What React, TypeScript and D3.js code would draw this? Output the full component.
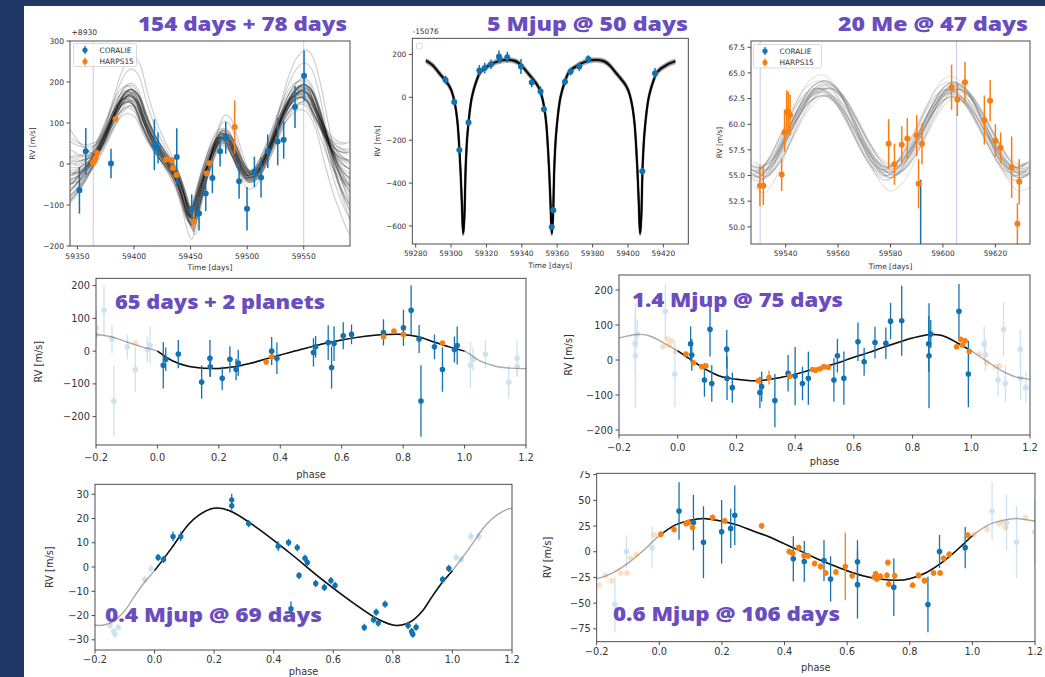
import React from "react";
import * as d3 from "d3";

type P2 = [number, number];
type P3 = [number, number, number];

const BLUE = "#1273b3";
const ORANGE = "#f77f12";
const PURPLE = "#6a4dbf";
const NAVY = "#1f3764";

// ---------------- Panel A: 154 days + 78 days ----------------
const aXTicks = [59350, 59400, 59450, 59500, 59550];
const aYTicks = [-200, -100, 0, 100, 200, 300];
const aCoralie: P3[] = [
  [59351.8, -64, 57], [59357.4, 31, 57], [59379.7, 1, 36], [59418.0, 47, 62], [59421.3, 39, 38],
  [59437.8, 17, 70], [59451.0, -109, 35], [59457.5, -121, 41], [59463.4, -72, 43], [59469.3, -34, 37],
  [59476.1, 31, 37], [59481.1, 64, 39], [59492.9, -42, 43], [59499.9, -109, 53], [59506.4, -19, 37],
  [59512.3, -33, 49], [59518.2, 31, 41], [59527.0, 55, 58], [59532.3, 59, 46], [59542.3, 139, 51],
  [59550.3, 215, 62],
];
const aHarps: P3[] = [
  [59363.6, 3, 8], [59365.0, 8, 8], [59366.2, 15, 8], [59367.4, 27, 8], [59383.6, 110, 6],
  [59428.4, 11, 6], [59433.4, 9, 6], [59434.5, -10, 6], [59437.5, -27, 6], [59452.8, -141, 25],
  [59464.3, -23, 6], [59466.6, 2, 6], [59489.0, 90, 65],
];
const aModel: P2[] = [
  [59343, -40], [59350, -30], [59357, -12], [59364, 12], [59371, 50], [59378, 92], [59385, 135],
  [59391, 160], [59396, 167], [59402, 155], [59409, 105], [59416, 62], [59423, 30], [59430, 2],
  [59437, -30], [59443, -75], [59448, -120], [59451, -133], [59455, -100], [59460, -48], [59465, -3],
  [59471, 42], [59477, 68], [59482, 64], [59488, 35], [59494, -3], [59501, -30], [59507, -25],
  [59513, 0], [59520, 40], [59527, 90], [59534, 135], [59541, 165], [59548, 178], [59554, 170],
  [59561, 130], [59569, 72], [59577, 20], [59584, -8], [59591, -25],
];
// posterior sample curves: [time shift, amplitude scale, offset, left-edge drift, right-edge drift]
const aSamples: number[][] = [
  [0, 1, 0, 0, 0], [0.5, 1.03, 3, 10, -15], [-0.5, 0.97, -3, -10, 15], [1, 1.06, 6, 20, -30],
  [-1, 0.94, -6, -20, 30], [1.5, 1.0, -4, 35, -10], [-1.5, 1.0, 4, -35, 10], [2, 1.08, 0, 15, -50],
  [-2, 0.92, 0, -15, 50], [0.8, 0.96, 8, 50, 20], [-0.8, 1.04, -8, -50, -20], [2.5, 0.98, -8, 25, -40],
  [-2.5, 1.02, 8, -25, 40], [0.3, 1.1, -5, 60, -70], [-0.3, 0.9, 5, -60, 70], [1.2, 1.12, 10, 40, -60],
  [-1.2, 0.88, -10, -40, 60], [3, 1.0, 5, 10, -80], [-3, 1.0, -5, -10, 80], [0, 1.05, -10, 70, 0],
  [0, 0.95, 10, -50, 0], [1.8, 1.02, 12, -30, -45], [-1.8, 0.98, -12, 30, 45], [0.6, 1.14, 2, 45, -90],
  [-0.6, 0.86, -2, -45, 60], [2.2, 0.93, -12, 0, -25], [-2.2, 1.07, 12, 0, 25], [1, 1.0, 15, 80, -50],
  [-1, 1.0, -15, -40, 50], [0.4, 1.09, -12, 20, -100], [-0.4, 0.91, 12, -20, 40], [1.5, 1.15, -10, 90, -70],
  [3.5, 1.05, 0, 40, -110], [-3.5, 0.95, 0, -40, -30], [2, 1.3, 15, 100, -130], [3, 1.45, 20, 60, -100],
  [-1, 0.8, -10, -50, -140], [0, 1.2, -25, 160, 60],
];
const aVLines = [59364, 59550];

// ---------------- Panel B: 5 Mjup @ 50 days ----------------
const bXTicks = [59280, 59300, 59320, 59340, 59360, 59380, 59400, 59420];
const bYTicks = [-600, -400, -200, 0, 200];
const bCoralie: P3[] = [
  [59296.9, 81, 20], [59301.8, -22, 15], [59304.7, -246, 15], [59309.9, -118, 15], [59316.0, 125, 25],
  [59319.0, 136, 25], [59322.6, 154, 22], [59327.1, 190, 28], [59327.5, 178, 20], [59331.8, 187, 25],
  [59339.5, 143, 35], [59345.6, 69, 22], [59350.6, 27, 25], [59352.5, -56, 15], [59356.9, -605, 15],
  [59357.8, -527, 15], [59364.4, 73, 18], [59367.6, 120, 18], [59372.5, 143, 20], [59377.6, 178, 18],
  [59408.1, -345, 15], [59415.3, 112, 25],
];
const bDips = [59306.8, 59356.9, 59406.8];
// curve shape around each periastron dip: [days from dip, RV]
const bDipShape: P2[] = [
  [-25, 174], [-21, 170], [-17, 148], [-14, 118], [-12, 98], [-10, 78], [-8, 55], [-6.3, 25], [-5, -15],
  [-4, -60], [-3, -130], [-2.1, -240], [-1.4, -350], [-0.7, -490], [0, -636], [0.45, -600], [0.9, -520],
  [1.3, -370], [2, -230], [3.1, -115], [4.5, -20], [6, 35], [7.5, 75], [9.2, 110], [11, 128], [13, 140],
  [16, 155], [20, 168], [24.9, 174],
];
const bRange: P2 = [59285, 59428];
const bSamples: P2[] = [[0, -10], [0, 10], [-0.3, -5], [0.3, 5], [-0.3, 6], [0.3, -6], [-0.15, 0], [0.15, 0]];

// ---------------- Panel C: 20 Me @ 47 days ----------------
const cXTicks = [59540, 59560, 59580, 59600, 59620];
const cYTicks = [50, 52.5, 55, 57.5, 60, 62.5, 65, 67.5];
const cHarps: P3[] = [
  [59530.2, 54.0, 2.0], [59531.5, 54.0, 1.9], [59538.5, 55.1, 1.6], [59539.6, 59.2, 1.9], [59540.4, 61.2, 2.1],
  [59541.0, 61.2, 2.0], [59541.7, 60.9, 2.0], [59579.3, 58.1, 2.4], [59581.5, 56.1, 2.0], [59584.3, 58.0, 1.8],
  [59586.4, 58.6, 2.0], [59590.0, 58.9, 2.0], [59590.7, 54.2, 2.4], [59592.0, 58.1, 2.0], [59603.3, 63.6, 2.2],
  [59605.5, 62.4, 1.6], [59608.4, 64.1, 2.0], [59615.8, 60.4, 2.4], [59618.0, 62.3, 2.0], [59620.0, 58.4, 1.6],
  [59622.0, 57.7, 1.5], [59626.2, 55.8, 3.0], [59628.4, 50.3, 2.0], [59629.1, 54.4, 2.2],
];
const cCoralie: P3[] = [[59591.5, 40, 14.6]];
const cModel: P2[] = [
  [59527, 55.6], [59531, 55.2], [59535, 56.2], [59540, 58.6], [59545, 61.2], [59550, 63.0], [59555, 63.5],
  [59560, 62.6], [59565, 60.5], [59570, 58.0], [59575, 56.0], [59579, 55.3], [59584, 56.0], [59590, 58.4],
  [59595, 61.0], [59600, 62.9], [59604, 63.4], [59609, 62.6], [59614, 60.6], [59619, 58.2], [59624, 56.1],
  [59628, 55.3], [59633.3, 55.8],
];
// [time shift, amplitude scale, offset]
const cSamples: number[][] = [
  [0, 1, 0], [0.5, 1.04, 0.15], [-0.5, 0.96, -0.15], [1, 1.08, -0.2], [-1, 0.92, 0.2], [1.5, 1.0, 0.35],
  [-1.5, 1.0, -0.35], [0.8, 1.12, 0], [-0.8, 0.88, 0], [2, 1.03, -0.1], [-2, 0.97, 0.1], [0.3, 1.06, 0.5],
  [-0.3, 0.94, -0.5], [1.2, 0.9, 0.4], [-1.2, 1.1, -0.4], [2.5, 1.0, 0], [-2.5, 1.0, 0], [0, 1.15, 0.1],
  [0, 0.85, -0.1], [1.8, 0.95, -0.5], [-1.8, 1.05, 0.5], [0.6, 1.0, 0.7], [-0.6, 1.0, -0.7], [1, 1.3, -0.6],
  [-1, 1.2, 0.5],
];
const cMean = 59.4;
const cVLines = [59530.3, 59605.2];

// ---------------- Panel D: 65 days + 2 planets ----------------
const phaseTicks = [-0.2, 0, 0.2, 0.4, 0.6, 0.8, 1.0, 1.2];
const dYTicks = [-200, -100, 0, 100, 200];
const dCoralie: P3[] = [
  [0.019, -43, 71], [0.027, -25, 36], [0.068, -9, 43], [0.144, -94, 51], [0.171, -22, 56], [0.172, -48, 30],
  [0.211, -83, 36], [0.236, -25, 40], [0.256, -56, 33], [0.263, -36, 40], [0.372, 0, 43], [0.389, -22, 48],
  [0.508, -4, 43], [0.515, 13, 33], [0.556, 26, 53], [0.567, -50, 64], [0.575, 23, 53], [0.605, 47, 41],
  [0.632, 51, 30], [0.736, 57, 40], [0.801, 71, 55], [0.826, 125, 76], [0.852, 37, 43], [0.858, -152, 109],
  [0.902, 13, 38], [0.928, -56, 68], [0.967, 5, 40], [0.976, 17, 58],
];
const dHarps: P3[] = [
  [0.354, -33, 4], [0.372, -17, 4], [0.736, 44, 4], [0.770, 61, 4], [0.801, 51, 4], [0.928, 25, 4],
];
const dModel: P2[] = [
  [0, 0], [0.05, -30], [0.1, -46], [0.15, -52], [0.2, -53], [0.25, -48], [0.3, -38], [0.35, -25], [0.4, -12],
  [0.45, 1], [0.5, 13], [0.55, 25], [0.6, 34], [0.65, 42], [0.7, 48], [0.75, 51], [0.8, 51], [0.85, 44],
  [0.9, 28], [0.95, 13],
];

// ---------------- Panel E: 1.4 Mjup @ 75 days ----------------
const eYTicks = [-200, -100, 0, 100, 200];
const eCoralie: P3[] = [
  [0.044, 46, 50], [0.048, 14, 45], [0.091, -57, 48], [0.110, 88, 78], [0.116, -67, 52], [0.167, 31, 55],
  [0.168, -52, 62], [0.186, -79, 43], [0.280, -93, 45], [0.286, -76, 43], [0.331, -116, 76], [0.376, -38, 52],
  [0.400, -46, 83], [0.425, -67, 48], [0.445, -52, 76], [0.532, -57, 62], [0.544, 12, 48], [0.566, -52, 76],
  [0.614, 52, 55], [0.635, -5, 40], [0.672, 50, 45], [0.709, 48, 45], [0.725, 111, 52], [0.763, 112, 100],
  [0.855, 46, 80], [0.856, 12, 150], [0.862, 74, 40], [0.958, 139, 78], [0.990, -40, 95],
];
const eHarps: P3[] = [
  [0.028, 17, 5], [0.053, -8, 5], [0.082, -19, 5], [0.096, -17, 5], [0.275, -59, 5], [0.311, -50, 20],
  [0.382, -46, 5], [0.459, -27, 5], [0.470, -29, 5], [0.485, -25, 5], [0.498, -19, 5], [0.513, -21, 5],
  [0.950, 38, 5], [0.964, 59, 5], [0.970, 43, 5], [0.979, 55, 5], [0.993, 24, 5],
];
const eModel: P2[] = [
  [0, 26], [0.05, -2], [0.1, -29], [0.15, -48], [0.2, -55], [0.25, -59], [0.3, -57], [0.35, -50], [0.4, -41],
  [0.45, -29], [0.5, -19], [0.55, -7], [0.6, 8], [0.65, 21], [0.7, 36], [0.75, 50], [0.8, 63], [0.86, 73],
  [0.9, 70], [0.95, 50],
];

// ---------------- Panel F: 0.4 Mjup @ 69 days ----------------
const fYTicks = [-30, -20, -10, 0, 10, 20, 30];
const fCoralie: P3[] = [
  [0.012, 3.9, 1.5], [0.030, 3.1, 1.5], [0.062, 12.6, 2], [0.088, 12.6, 2], [0.259, 27.7, 2.5], [0.259, 25.3, 2],
  [0.316, 17.9, 1.5], [0.415, 8.6, 2], [0.450, 10.1, 1.5], [0.458, -17.2, 3], [0.479, 8.0, 1.5], [0.485, -3.5, 1.5],
  [0.505, 3.6, 1.5], [0.513, 1.9, 1.5], [0.541, -6.8, 1.5], [0.570, -8.4, 1.5], [0.592, -5.6, 1.5],
  [0.606, -7.6, 1.5], [0.704, -24.9, 1.5], [0.735, -21.7, 1.5], [0.744, -18.6, 1.5], [0.751, -23.1, 1.5],
  [0.774, -15.3, 1.5], [0.851, -24.1, 1.5], [0.863, -26.6, 1.5], [0.867, -27.7, 1.5], [0.878, -24.8, 1.5],
  [0.967, -5.1, 1.5], [0.988, -0.6, 1.5],
];
const fModel: P2[] = [
  [0, -1.5], [0.057, 7.8], [0.113, 17.4], [0.15, 21.5], [0.198, 24.2], [0.25, 23.3], [0.338, 16.7],
  [0.451, 6.1], [0.564, -5.3], [0.676, -15.6], [0.75, -21.5], [0.811, -24.1], [0.86, -22.5], [0.9, -18],
  [0.93, -12.5], [0.965, -6.5],
];

// ---------------- Panel G: 0.6 Mjup @ 106 days ----------------
const gYTicks = [-75, -50, -25, 0, 25, 50, 75];
const gCoralie: P3[] = [
  [0.063, 39.7, 28], [0.109, 28.5, 27], [0.141, 9.2, 35], [0.199, 19.4, 31], [0.228, 22.7, 19], [0.241, 35.5, 29],
  [0.428, -6.9, 22], [0.463, -9.5, 20], [0.526, -8.5, 20], [0.547, -26.5, 22], [0.633, -9.8, 21],
  [0.633, -32, 33], [0.749, -34.6, 28], [0.858, -51.3, 27], [0.895, 0.2, 16], [0.977, 4, 20],
];
const gHarps: P3[] = [
  [0.005, 16.9, 3], [0.047, 21.7, 3], [0.085, 27.5, 3], [0.093, 28.5, 3], [0.106, 23.6, 3], [0.170, 33.3, 3],
  [0.209, 30, 3], [0.327, 25.2, 3], [0.415, 0.2, 3], [0.426, -1.4, 3], [0.445, 4, 3], [0.462, -4, 3],
  [0.475, -4, 3], [0.496, -11.4, 3], [0.515, -14.3, 3], [0.532, -20.7, 3], [0.564, -19.8, 3], [0.594, -14.3, 33],
  [0.616, -23.3, 3], [0.687, -24.6, 3], [0.691, -21.4, 3], [0.695, -26.5, 3], [0.706, -24, 3], [0.727, -23, 3],
  [0.730, -10.4, 3], [0.733, -31.4, 3], [0.752, -23.3, 3], [0.809, -32.6, 3], [0.828, -23, 3], [0.847, -28.1, 3],
  [0.876, -20.7, 3], [0.897, -20.7, 3], [0.908, -6.3, 3], [0.926, -2.4, 3], [0.985, 16.2, 3],
];
const gModel: P2[] = [
  [0, 15.5], [0.05, 25.9], [0.1, 30.7], [0.14, 32.3], [0.2, 29.7], [0.25, 25.9], [0.3, 20.1], [0.35, 14.6],
  [0.4, 7.6], [0.45, 0.8], [0.5, -6.3], [0.55, -12.7], [0.6, -18.5], [0.65, -23.3], [0.7, -26.2], [0.76, -27.8],
  [0.8, -26.2], [0.85, -20.7], [0.9, -11.1], [0.95, 1.5],
];

// ---------------- helpers ----------------
type Box = { l: number; r: number; t: number; b: number };
const TXT = "#333";
const FONT = "DejaVu Sans";

function ErrPts({ data, x, y, color, r, sw = 1.3, alpha = 1 }: any) {
  return (
    <g opacity={alpha}>
      {data.map((d: P3, i: number) => (
        <g key={i}>
          <line x1={x(d[0])} x2={x(d[0])} y1={y(d[1] - d[2])} y2={y(d[1] + d[2])} stroke={color} strokeWidth={sw} />
          <circle cx={x(d[0])} cy={y(d[1])} r={r} fill={color} />
        </g>
      ))}
    </g>
  );
}

function Frame({ box, x, y, xTicks, yTicks, xFmt, yFmt, fs, xLabel, xLabelY, yLabel, yLabelX, lfs, pad = 2 }: any) {
  const tl = 3.5;
  return (
    <g fontFamily={FONT} fill={TXT}>
      <rect x={box.l} y={box.t} width={box.r - box.l} height={box.b - box.t} fill="none" stroke="#3a3a3a" strokeWidth={0.9} />
      {xTicks.map((t: number) => (
        <g key={"x" + t}>
          <line x1={x(t)} x2={x(t)} y1={box.b} y2={box.b + tl} stroke="#3a3a3a" strokeWidth={0.9} />
          <text x={x(t)} y={box.b + tl + pad + fs * 0.78} textAnchor="middle" fontSize={fs}>{xFmt(t)}</text>
        </g>
      ))}
      {yTicks.map((t: number) => (
        <g key={"y" + t}>
          <line x1={box.l - tl} x2={box.l} y1={y(t)} y2={y(t)} stroke="#3a3a3a" strokeWidth={0.9} />
          <text x={box.l - tl - 2.5} y={y(t) + fs * 0.36} textAnchor="end" fontSize={fs}>{yFmt(t)}</text>
        </g>
      ))}
      <text x={(box.l + box.r) / 2} y={xLabelY} textAnchor="middle" fontSize={lfs}>{xLabel}</text>
      <text transform={`translate(${yLabelX},${(box.t + box.b) / 2}) rotate(-90)`} textAnchor="middle" fontSize={lfs}>{yLabel}</text>
    </g>
  );
}

function Title({ x, y, w, text }: any) {
  return (
    <text x={x} y={y} fontFamily="Open Sans, Lato, sans-serif" fontWeight={800} fontSize={20} fill={PURPLE}
      textLength={w} lengthAdjust="spacingAndGlyphs">{text}</text>
  );
}

function Legend({ x, y, w, h, entries, fs }: any) {
  return (
    <g fontFamily={FONT}>
      <rect x={x} y={y} width={w} height={h} rx={2} fill="white" fillOpacity={0.85} stroke="#cfcfcf" strokeWidth={0.8} />
      {entries.map((e: any, i: number) => (
        <g key={i}>
          <line x1={x + 11.5} x2={x + 11.5} y1={y + 6.5 + i * 11.5 - 4} y2={y + 6.5 + i * 11.5 + 4} stroke={e.color} strokeWidth={1.3} />
          <circle cx={x + 11.5} cy={y + 6.5 + i * 11.5} r={2.6} fill={e.color} />
          <text x={x + 26} y={y + 6.5 + i * 11.5 + fs * 0.36} fontSize={fs} fill={TXT}>{e.label}</text>
        </g>
      ))}
    </g>
  );
}

const lineGen = (x: any, y: any, curve: any) =>
  d3.line<P2>().x((d) => x(d[0])).y((d) => y(d[1])).curve(curve);

function phaseCopies(data: P3[]): P3[] {
  return [
    ...data.filter((d) => d[0] > 0.8).map((d) => [d[0] - 1, d[1], d[2]] as P3),
    ...data.filter((d) => d[0] < 0.2).map((d) => [d[0] + 1, d[1], d[2]] as P3),
  ];
}
function extendKnots(k: P2[]): P2[] {
  const out: P2[] = [];
  for (const s of [-1, 0, 1]) for (const p of k) out.push([p[0] + s, p[1]]);
  out.push([k[0][0] + 2, k[0][1]]);
  return out;
}

function PhasePanel({ id, box, yDom, yTicks, coralie, harps, model, fs, xLabelY, yLabelX, r, clipTop, pad }: any) {
  const x = d3.scaleLinear().domain([-0.2, 1.2]).range([box.l, box.r]);
  const y = d3.scaleLinear().domain(yDom).range([box.b, box.t]);
  const fmt1 = d3.format(".1f");
  const fmt0 = d3.format("d");
  const cr = d3.curveCatmullRom.alpha(0.5);
  const gray = lineGen(x, y, cr)(extendKnots(model)) || "";
  const black = lineGen(x, y, cr)([...model, [1, model[0][1]]]) || "";
  const content = (
    <g>
      <g clipPath={`url(#clip${id})`}>
        <path d={gray} fill="none" stroke="#a9a9a9" strokeWidth={1.4} />
        <ErrPts data={phaseCopies(coralie)} x={x} y={y} color={BLUE} r={r} alpha={0.2} />
        {harps && <ErrPts data={phaseCopies(harps)} x={x} y={y} color={ORANGE} r={r} alpha={0.25} />}
        <path d={black} fill="none" stroke="#111" strokeWidth={1.5} />
        <ErrPts data={coralie} x={x} y={y} color={BLUE} r={r} />
        {harps && <ErrPts data={harps} x={x} y={y} color={ORANGE} r={r} />}
      </g>
      <Frame box={box} x={x} y={y} xTicks={phaseTicks} yTicks={yTicks} xFmt={fmt1} yFmt={fmt0} fs={fs}
        xLabel="phase" xLabelY={xLabelY} yLabel="RV [m/s]" yLabelX={yLabelX} lfs={fs} pad={pad} />
    </g>
  );
  return (
    <g>
      <defs>
        <clipPath id={`clip${id}`}>
          <rect x={box.l} y={box.t} width={box.r - box.l} height={box.b - box.t} />
        </clipPath>
        {clipTop !== undefined && (
          <clipPath id={`outer${id}`}>
            <rect x={0} y={clipTop} width={1045} height={677 - clipTop} />
          </clipPath>
        )}
      </defs>
      {clipTop !== undefined ? <g clipPath={`url(#outer${id})`}>{content}</g> : content}
    </g>
  );
}

export default function App() {
  // ---- Panel A scales
  const boxA: Box = { l: 70, r: 350, t: 41, b: 246 };
  const xA = d3.scaleLinear().domain([59343.46, 59590.9]).range([boxA.l, boxA.r]);
  const yA = d3.scaleLinear().domain([-200, 300]).range([boxA.b, boxA.t]);
  const crA = d3.curveCatmullRom.alpha(0.5);
  const aPaths = aSamples.map(([dt, sc, dy, eL, eR]) =>
    lineGen(xA, yA, crA)(
      aModel.map(([t, v]) => [
        t + dt,
        v * sc + dy + eL * Math.max(0, (59370 - t) / 27) + eR * Math.max(0, (t - 59560) / 31),
      ] as P2)
    ) || ""
  );

  // ---- Panel B
  const boxB: Box = { l: 412.3, r: 688.3, t: 38.3, b: 244 };
  const xB = d3.scaleLinear().domain([59278.1, 59434.1]).range([boxB.l, boxB.r]);
  const yB = d3.scaleLinear().domain([-684, 275]).range([boxB.b, boxB.t]);
  const bKnots: P2[] = bDips
    .flatMap((d) => bDipShape.map(([dt, v]) => [d + dt, v] as P2))
    .filter((p) => p[0] >= bRange[0] && p[0] <= bRange[1]);
  const crB = d3.curveMonotoneX;
  const bMain = lineGen(xB, yB, crB)(bKnots) || "";
  const bSamplePaths = bSamples.map(([dt, dy]) => lineGen(xB, yB, crB)(bKnots.map(([t, v]) => [t + dt, v + dy] as P2)) || "");

  // ---- Panel C
  const boxC: Box = { l: 751, r: 1030, t: 41, b: 244 };
  const xC = d3.scaleLinear().domain([59526.8, 59633.2]).range([boxC.l, boxC.r]);
  const yC = d3.scaleLinear().domain([48.33, 68.11]).range([boxC.b, boxC.t]);
  const cPaths = cSamples.map(([dt, sc, dy]) =>
    lineGen(xC, yC, crA)(cModel.map(([t, v]) => [t + dt, cMean + (v - cMean) * sc + dy] as P2)) || ""
  );

  const fmtD = d3.format("d");
  const fmt1 = d3.format(".1f");

  const clipRect = (id: string, b: Box) => (
    <clipPath id={id}>
      <rect x={b.l} y={b.t} width={b.r - b.l} height={b.b - b.t} />
    </clipPath>
  );

  return (
    <svg width={1045} height={677} style={{ position: "fixed", left: 0, top: 0 }} xmlns="http://www.w3.org/2000/svg">
      <defs>
        {clipRect("clipA", boxA)}
        {clipRect("clipB", boxB)}
        {clipRect("clipC", boxC)}
      </defs>
      <rect x={0} y={0} width={1045} height={677} fill={NAVY} />
      <rect x={24} y={6} width={1021} height={671} fill="white" />

      {/* ---------- Panel A ---------- */}
      <g clipPath="url(#clipA)">
        {aVLines.map((t) => (
          <line key={t} x1={xA(t)} x2={xA(t)} y1={boxA.t} y2={boxA.b} stroke="#c9c9f2" strokeWidth={1} />
        ))}
        {aPaths.map((p, i) => (
          <path key={i} d={p} fill="none" stroke="#000" strokeOpacity={0.19} strokeWidth={1.2} />
        ))}
        <ErrPts data={aCoralie} x={xA} y={yA} color={BLUE} r={3} sw={1.5} />
        <ErrPts data={aHarps} x={xA} y={yA} color={ORANGE} r={3} sw={1.5} />
      </g>
      <Frame box={boxA} x={xA} y={yA} xTicks={aXTicks} yTicks={aYTicks} xFmt={fmtD} yFmt={fmtD} fs={7.6}
        xLabel="Time [days]" xLabelY={270} yLabel="RV [m/s]" yLabelX={35} lfs={7.6} pad={4} />
      <text x={71.5} y={34.5} fontFamily={FONT} fontSize={7.6} fill={TXT}>+8930</text>
      <Legend x={73.5} y={43.5} w={63} h={23} fs={7.4}
        entries={[{ color: BLUE, label: "CORALIE" }, { color: ORANGE, label: "HARPS15" }]} />
      <Title x={138} y={31} w={209} text="154 days + 78 days" />

      {/* ---------- Panel B ---------- */}
      <g clipPath="url(#clipB)">
        {bSamplePaths.map((p, i) => (
          <path key={i} d={p} fill="none" stroke="#000" strokeOpacity={0.22} strokeWidth={1.6} />
        ))}
        <path d={bMain} fill="none" stroke="#000" strokeWidth={1.8} />
        <ErrPts data={bCoralie} x={xB} y={yB} color={BLUE} r={3} sw={1.5} />
      </g>
      <Frame box={boxB} x={xB} y={yB} xTicks={bXTicks} yTicks={bYTicks} xFmt={fmtD} yFmt={fmtD} fs={7.4}
        xLabel="Time [days]" xLabelY={268} yLabel="RV [m/s]" yLabelX={380} lfs={7.4} pad={2.5} />
      <text x={412.5} y={34} fontFamily={FONT} fontSize={7.4} fill={TXT}>-15076</text>
      <rect x={416.5} y={43.5} width={5.5} height={5.5} rx={1} fill="white" stroke="#d0d0d0" strokeWidth={0.8} />
      <Title x={487} y={31} w={201} text="5 Mjup @ 50 days" />

      {/* ---------- Panel C ---------- */}
      <g clipPath="url(#clipC)">
        {cVLines.map((t) => (
          <line key={t} x1={xC(t)} x2={xC(t)} y1={boxC.t} y2={boxC.b} stroke="#c9c9f2" strokeWidth={1} />
        ))}
        {cPaths.map((p, i) => (
          <path key={i} d={p} fill="none" stroke="#000" strokeOpacity={0.12} strokeWidth={1.1} />
        ))}
        <ErrPts data={cCoralie} x={xC} y={yC} color={BLUE} r={3} sw={1.5} />
        <ErrPts data={cHarps} x={xC} y={yC} color={ORANGE} r={3} sw={1.5} />
      </g>
      <Frame box={boxC} x={xC} y={yC} xTicks={cXTicks} yTicks={cYTicks} xFmt={fmtD} yFmt={fmt1} fs={7.4}
        xLabel="Time [days]" xLabelY={268.5} yLabel="RV [m/s]" yLabelX={722} lfs={7.4} pad={3} />
      <Legend x={753.5} y={44.5} w={68} h={23.5} fs={7.4}
        entries={[{ color: BLUE, label: "CORALIE" }, { color: ORANGE, label: "HARPS15" }]} />
      <Title x={838} y={31} w={190} text="20 Me @ 47 days" />

      {/* ---------- Panel D ---------- */}
      <PhasePanel id="D" box={{ l: 96, r: 526, t: 278.3, b: 445 }} yDom={[-286.5, 222.3]} yTicks={dYTicks}
        coralie={dCoralie} harps={dHarps} model={dModel} fs={9.8} xLabelY={478} yLabelX={42} r={2.8} pad={5} />
      <Title x={115} y={309} w={210} text="65 days + 2 planets" />

      {/* ---------- Panel E ---------- */}
      <PhasePanel id="E" box={{ l: 619, r: 1030, t: 275, b: 435 }} yDom={[-214.3, 242.9]} yTicks={eYTicks}
        coralie={eCoralie} harps={eHarps} model={eModel} fs={9.8} xLabelY={465} yLabelX={572} r={2.8} pad={4.5} />
      <Title x={632} y={307} w={211} text="1.4 Mjup @ 75 days" />

      {/* ---------- Panel F ---------- */}
      <PhasePanel id="F" box={{ l: 95, r: 512, t: 484.3, b: 650 }} yDom={[-34.2, 34.1]} yTicks={fYTicks}
        coralie={fCoralie} harps={null} model={fModel} fs={9.8} xLabelY={675} yLabelX={53} r={2.7} pad={2} />
      <Title x={105} y={622} w={217} text="0.4 Mjup @ 69 days" />

      {/* ---------- Panel G ---------- */}
      <PhasePanel id="G" box={{ l: 596.7, r: 1035, t: 473.3, b: 641.7 }} yDom={[-87.5, 76.3]} yTicks={gYTicks}
        coralie={gCoralie} harps={gHarps} model={gModel} fs={9.8} xLabelY={671} yLabelX={551} r={2.8} clipTop={471} pad={2} />
      <Title x={613} y={621} w={227} text="0.6 Mjup @ 106 days" />
    </svg>
  );
}
